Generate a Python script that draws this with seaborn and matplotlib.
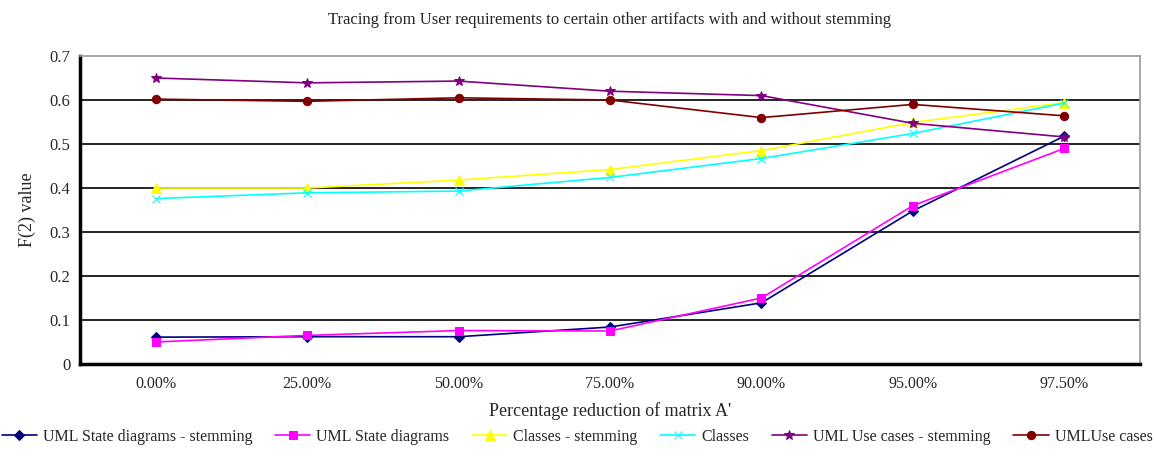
import matplotlib
matplotlib.use("Agg")
import matplotlib.pyplot as plt
import pandas as pd
import seaborn as sns

categories = ["0.00%", "25.00%", "50.00%", "75.00%", "90.00%", "95.00%", "97.50%"]

state_stem = [0.061, 0.062, 0.062, 0.084, 0.139, 0.348, 0.518]
state_plain = [0.050, 0.065, 0.076, 0.075, 0.150, 0.360, 0.490]
classes_stem = [0.400, 0.400, 0.418, 0.442, 0.485, 0.549, 0.594]
classes_plain = [0.376, 0.389, 0.393, 0.424, 0.467, 0.524, 0.593]
usecase_stem = [0.650, 0.639, 0.643, 0.620, 0.610, 0.547, 0.516]
usecase_plain = [0.602, 0.597, 0.605, 0.600, 0.560, 0.590, 0.564]

names = ["UML State diagrams - stemming", "UML State diagrams", "Classes - stemming",
         "Classes", "UML Use cases - stemming", "UMLUse cases"]
series = [state_stem, state_plain, classes_stem, classes_plain, usecase_stem, usecase_plain]
colors = ["#000080", "#FF00FF", "#FFFF00", "#00FFFF", "#800080", "#800000"]
markers = ["D", "s", "^", "x", "*", "o"]
msizes = [5, 6, 7, 6, 7, 6]

sns.set_style("white")
plt.rcParams["font.family"] = ["Liberation Serif", "DejaVu Serif"]

fig = plt.figure(figsize=(11.56, 4.75), dpi=100)
ax = fig.add_axes([0.0692, 0.2337, 0.9170, 0.6484])

for name, vals, c, m, ms in zip(names, series, colors, markers, msizes):
    df = pd.DataFrame({"reduction": categories, "F2": vals})
    sns.lineplot(data=df, x="reduction", y="F2", ax=ax, color=c, marker=m,
                 markersize=ms, markeredgecolor=c, markerfacecolor=c,
                 linewidth=1.2, label=name, sort=False)

ax.set_xlim(-0.5, len(categories) - 0.5)
ax.set_ylim(0, 0.7)
ax.set_yticks([0, 0.1, 0.2, 0.3, 0.4, 0.5, 0.6, 0.7])
ax.set_yticklabels(["0", "0.1", "0.2", "0.3", "0.4", "0.5", "0.6", "0.7"], fontsize=12)
ax.set_xticks(range(len(categories)))
ax.set_xticklabels(categories, fontsize=11.5)
ax.set_xticks([i + 0.5 for i in range(-1, len(categories))], minor=True)
ax.tick_params(axis="x", which="major", length=0, pad=9)
ax.tick_params(axis="x", which="minor", length=8, width=2, direction="inout", color="black")
ax.tick_params(axis="y", length=6, width=2, direction="inout", color="black", pad=4)

for yv in [0.1, 0.2, 0.3, 0.4, 0.5, 0.6]:
    ax.axhline(yv, color="black", linewidth=1.2, zorder=0)

for side in ["left", "bottom"]:
    ax.spines[side].set_color("black")
    ax.spines[side].set_linewidth(2.5)
for side in ["top", "right"]:
    ax.spines[side].set_color("#999999")
    ax.spines[side].set_linewidth(1.2)

ax.set_title("Tracing from User requirements to certain other artifacts with and without stemming",
             fontsize=12, pad=23)
ax.set_xlabel("Percentage reduction of matrix A'", fontsize=13, labelpad=7)
ax.set_ylabel("F(2) value", fontsize=13, labelpad=10)

ax.legend(loc="center", bbox_to_anchor=(0.469, -0.237), ncol=6, frameon=False,
          fontsize=11.5, handlelength=2.2, columnspacing=1.4, handletextpad=0.4)

fig.savefig("out.png", dpi=100)
